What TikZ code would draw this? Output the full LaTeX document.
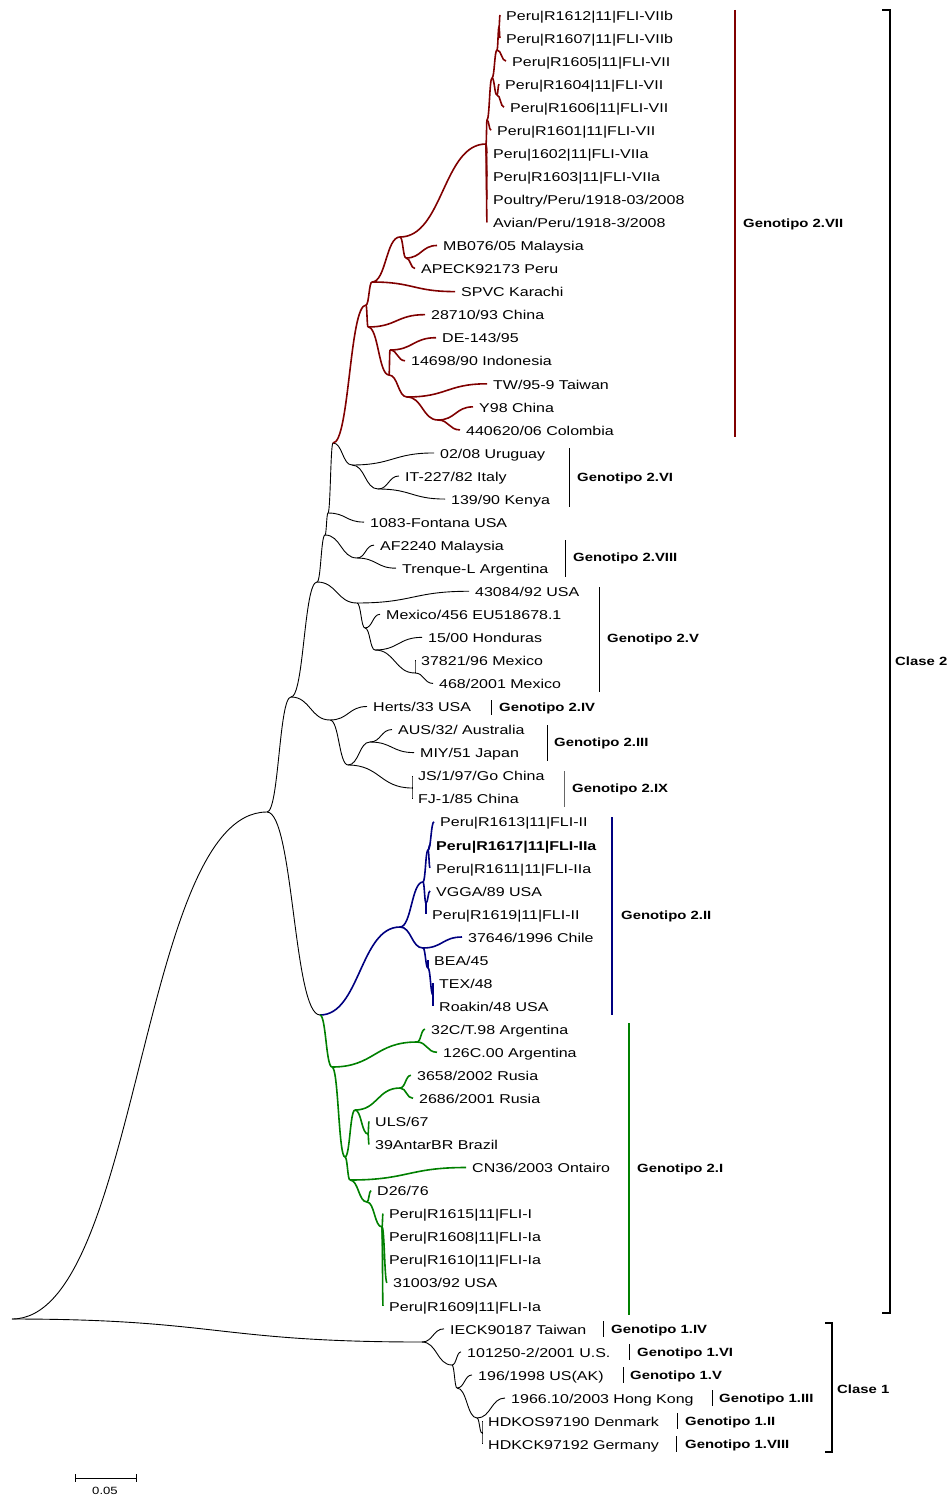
\documentclass[tikz,border=0pt]{standalone}
\usepackage{fontspec}
\newfontfamily\treefont[FakeStretch=1.25]{Liberation Sans}
\usetikzlibrary{calc}

\definecolor{cvii}{RGB}{128,0,0}
\definecolor{cii}{RGB}{0,0,128}
\definecolor{ci}{RGB}{0,128,0}

\tikzset{
    br/.style={to path={let \p1=(\tikztostart), \p2=(\tikztotarget), \n1={0.5*(\x1+\x2)} in
        .. controls (\n1,\y1) and (\n1,\y2) .. (\tikztotarget)}},
    taxon/.style={anchor=base west, inner sep=0pt, xshift=6pt, yshift=-5.2pt,
        font=\treefont\fontsize{12.8}{14}\selectfont},
    geno/.style={anchor=base west, inner sep=0pt, yshift=-4.8pt,
        font=\treefont\bfseries\fontsize{11.9}{13}\selectfont},
    thin branch/.style={line width=0.9pt},
    thick branch/.style={line width=1.6pt}
}

% leaf: name, tip x, row, text
\newcommand\leaf[4]{\coordinate (#1) at (#2,{15+23.05*(#3-1)}); \node[taxon] (#1-txt) at (#1) {#4};}

\begin{document}
\begin{tikzpicture}[x=1pt, y=-1pt, br]
    \useasboundingbox (0,0) rectangle (950,1495);

    % inner nodes
    \coordinate (root) at (12,1319);
    \coordinate (n6) at (267,812);
    \coordinate (n5) at (291,697);
    \coordinate (n4) at (317,582);
    \coordinate (n3) at (325,535);
    \coordinate (n2) at (328,513);
    \coordinate (n1) at (333,443);
    \coordinate (n7) at (320,1015);
    \coordinate (k0) at (422,1342);
    \coordinate (k1) at (452,1365);
    \coordinate (k2) at (457,1388);
    \coordinate (k3) at (477,1418);
    \coordinate (k4) at (482,1433);

    \coordinate (r0) at (366,305);
    \coordinate (ra) at (372,282);
    \coordinate (rb) at (368,327);
    \coordinate (rc) at (400,237);
    \coordinate (rd) at (389,375);
    \coordinate (re) at (406,258);
    \coordinate (rf) at (390,350);
    \coordinate (rg) at (407,397);
    \coordinate (rh) at (438,420);
    \coordinate (p0) at (486,144);
    \coordinate (p1) at (487,120);
    \coordinate (p2) at (492,78);
    \coordinate (p3) at (497,50);
    \coordinate (p4) at (499,27);
    \coordinate (p5) at (497,95);

    \coordinate (v1) at (352,465);
    \coordinate (v2) at (378,489);
    \coordinate (w1) at (357,558);
    \coordinate (x1) at (357,603);
    \coordinate (x2) at (365,628);
    \coordinate (x3) at (375,650);
    \coordinate (x4) at (415,673);
    \coordinate (y1) at (330,720);
    \coordinate (y2) at (348,765);
    \coordinate (y3) at (370,742);
    \coordinate (y4) at (412,788);

    \coordinate (b0) at (400,927);
    \coordinate (b1) at (423,882);
    \coordinate (b2) at (423,948);
    \coordinate (b3) at (428,850);
    \coordinate (b4) at (426,903);
    \coordinate (b5) at (428,968);
    \coordinate (b6) at (433,995);

    \coordinate (g1) at (332,1067);
    \coordinate (g2) at (345,1157);
    \coordinate (g3) at (355,1110);
    \coordinate (g4) at (350,1180);
    \coordinate (g5) at (367,1202);
    \coordinate (g6) at (382,1227);
    \coordinate (ga) at (417,1042);
    \coordinate (gb) at (400,1088);
    \coordinate (gc) at (368,1134);

    % leaves
    \leaf{t1}{500}{1}{Peru|R1612|11|FLI-VIIb}
    \leaf{t2}{500}{2}{Peru|R1607|11|FLI-VIIb}
    \leaf{t3}{506}{3}{Peru|R1605|11|FLI-VII}
    \leaf{t4}{499}{4}{Peru|R1604|11|FLI-VII}
    \leaf{t5}{504}{5}{Peru|R1606|11|FLI-VII}
    \leaf{t6}{491}{6}{Peru|R1601|11|FLI-VII}
    \leaf{t7}{487}{7}{Peru|1602|11|FLI-VIIa}
    \leaf{t8}{487}{8}{Peru|R1603|11|FLI-VIIa}
    \leaf{t9}{487}{9}{Poultry/Peru/1918-03/2008}
    \leaf{t10}{487}{10}{Avian/Peru/1918-3/2008}
    \leaf{t11}{437}{11}{MB076/05 Malaysia}
    \leaf{t12}{415}{12}{APECK92173 Peru}
    \leaf{t13}{455}{13}{SPVC Karachi}
    \leaf{t14}{425}{14}{28710/93 China}
    \leaf{t15}{436}{15}{DE-143/95}
    \leaf{t16}{405}{16}{14698/90 Indonesia}
    \leaf{t17}{487}{17}{TW/95-9 Taiwan}
    \leaf{t18}{473}{18}{Y98 China}
    \leaf{t19}{460}{19}{440620/06 Colombia}
    \leaf{t20}{434}{20}{02/08 Uruguay}
    \leaf{t21}{399}{21}{IT-227/82 Italy}
    \leaf{t22}{445}{22}{139/90 Kenya}
    \leaf{t23}{364}{23}{1083-Fontana USA}
    \leaf{t24}{374}{24}{AF2240 Malaysia}
    \leaf{t25}{396}{25}{Trenque-L Argentina}
    \leaf{t26}{469}{26}{43084/92 USA}
    \leaf{t27}{380}{27}{Mexico/456 EU518678.1}
    \leaf{t28}{422}{28}{15/00 Honduras}
    \leaf{t29}{415}{29}{37821/96 Mexico}
    \leaf{t30}{433}{30}{468/2001 Mexico}
    \leaf{t31}{367}{31}{Herts/33 USA}
    \leaf{t32}{392}{32}{AUS/32/ Australia}
    \leaf{t33}{414}{33}{MIY/51 Japan}
    \leaf{t34}{412}{34}{JS/1/97/Go China}
    \leaf{t35}{412}{35}{FJ-1/85 China}
    \leaf{t36}{434}{36}{Peru|R1613|11|FLI-II}
    \leaf{t37}{430}{37}{\bfseries Peru|R1617|11|FLI-IIa}
    \leaf{t38}{430}{38}{Peru|R1611|11|FLI-IIa}
    \leaf{t39}{430}{39}{VGGA/89 USA}
    \leaf{t40}{426}{40}{Peru|R1619|11|FLI-II}
    \leaf{t41}{462}{41}{37646/1996 Chile}
    \leaf{t42}{428}{42}{BEA/45}
    \leaf{t43}{433}{43}{TEX/48}
    \leaf{t44}{433}{44}{Roakin/48 USA}
    \leaf{t45}{425}{45}{32C/T.98 Argentina}
    \leaf{t46}{437}{46}{126C.00 Argentina}
    \leaf{t47}{411}{47}{3658/2002 Rusia}
    \leaf{t48}{413}{48}{2686/2001 Rusia}
    \leaf{t49}{369}{49}{ULS/67}
    \leaf{t50}{369}{50}{39AntarBR Brazil}
    \leaf{t51}{466}{51}{CN36/2003 Ontairo}
    \leaf{t52}{371}{52}{D26/76}
    \leaf{t53}{383}{53}{Peru|R1615|11|FLI-I}
    \leaf{t54}{383}{54}{Peru|R1608|11|FLI-Ia}
    \leaf{t55}{383}{55}{Peru|R1610|11|FLI-Ia}
    \leaf{t56}{387}{56}{31003/92 USA}
    \leaf{t57}{383}{57}{Peru|R1609|11|FLI-Ia}
    \leaf{t58}{444}{58}{IECK90187 Taiwan}
    \leaf{t59}{461}{59}{101250-2/2001 U.S.}
    \leaf{t60}{472}{60}{196/1998 US(AK)}
    \leaf{t61}{505}{61}{1966.10/2003 Hong Kong}
    \leaf{t62}{482}{62}{HDKOS97190 Denmark}
    \leaf{t63}{482}{63}{HDKCK97192 Germany}

    % branches
    \foreach \a/\b in {root/n6, root/k0, n6/n5, n6/n7, n5/n4, n5/y1, n4/n3, n4/x1,
        n3/n2, n3/w1, n2/n1, n2/t23, n1/v1, v1/t20, v1/v2, v2/t21, v2/t22,
        w1/t24, w1/t25, x1/t26, x1/x2, x2/t27, x2/x3, x3/t28, x3/x4, x4/t29, x4/t30,
        y1/t31, y1/y2, y2/y3, y2/y4, y3/t32, y3/t33, y4/t34, y4/t35,
        k0/t58, k0/k1, k1/t59, k1/k2, k2/t60, k2/k3, k3/t61, k3/k4, k4/t62, k4/t63}
        \draw[thin branch] (\a) to (\b);

    \foreach \a/\b in {n1/r0, r0/ra, r0/rb, ra/rc, ra/t13, rc/p0, rc/re, re/t11, re/t12,
        rb/t14, rb/rd, rd/rf, rd/rg, rf/t15, rf/t16, rg/t17, rg/rh, rh/t18, rh/t19,
        p0/p1, p0/t7, p0/t8, p0/t9, p0/t10, p1/t6, p1/p2, p2/p3, p2/p5,
        p3/p4, p3/t3, p4/t1, p4/t2, p5/t4, p5/t5}
        \draw[thick branch, cvii] (\a) to (\b);

    \foreach \a/\b in {n7/b0, b0/b1, b0/b2, b1/b3, b1/b4, b3/t36, b3/t37, b3/t38,
        b4/t39, b4/t40, b2/t41, b2/b5, b5/t42, b5/b6, b6/t43, b6/t44}
        \draw[thick branch, cii] (\a) to (\b);

    \foreach \a/\b in {n7/g1, g1/ga, g1/g2, ga/t45, ga/t46, g2/g3, g2/g4, g3/gb, g3/gc,
        gb/t47, gb/t48, gc/t49, gc/t50, g4/t51, g4/g5, g5/t52, g5/g6,
        g6/t53, g6/t54, g6/t55, g6/t56, g6/t57}
        \draw[thick branch, ci] (\a) to (\b);

    % genotypes
    \draw[thick branch, cvii] (735,10) -- (735,437);
    \node[geno] (gvii) at (743,223) {Genotipo 2.VII};
    \draw[line width=1pt] (569,448) -- (569,507);
    \node[geno] (gvi) at (577,477) {Genotipo 2.VI};
    \draw[line width=1pt] (565,540) -- (565,577);
    \node[geno] (gviii) at (573,557) {Genotipo 2.VIII};
    \draw[line width=1pt] (599,587) -- (599,692);
    \node[geno] (gv) at (607,638) {Genotipo 2.V};
    \draw[line width=1pt] (491,700) -- (491,715);
    \node[geno] (giv) at (499,707) {Genotipo 2.IV};
    \draw[line width=1pt] (547,725) -- (547,761);
    \node[geno] (giii) at (554,742) {Genotipo 2.III};
    \draw[line width=1pt, black!60] (564,771) -- (564,807);
    \node[geno] (gix) at (572,788) {Genotipo 2.IX};
    \draw[thick branch, cii] (612,817) -- (612,1015);
    \node[geno] (gii) at (621,915) {Genotipo 2.II};
    \draw[thick branch, ci] (629,1023) -- (629,1315);
    \node[geno] (gi) at (637,1168) {Genotipo 2.I};

    \draw[line width=0.8pt] (603,1321) -- (603,1337);
    \node[geno] (hiv) at (611,1329) {Genotipo 1.IV};
    \draw[line width=0.8pt] (629,1344) -- (629,1360);
    \node[geno] (hvi) at (637,1352) {Genotipo 1.VI};
    \draw[line width=0.8pt] (623,1367) -- (623,1383);
    \node[geno] (hv) at (630,1375) {Genotipo 1.V};
    \draw[line width=0.8pt] (712,1390) -- (712,1406);
    \node[geno] (hiii) at (719,1398) {Genotipo 1.III};
    \draw[line width=0.8pt] (677,1413) -- (677,1429);
    \node[geno] (hii) at (685,1421) {Genotipo 1.II};
    \draw[line width=0.8pt] (676,1436) -- (676,1452);
    \node[geno] (hviii) at (685,1444) {Genotipo 1.VIII};

    % classes
    \draw[line width=1.6pt] (882,10) -- (890,10) -- (890,1313) -- (882,1313);
    \node[geno] (c2) at (895,661) {Clase 2};
    \draw[line width=1.6pt] (825,1323) -- (832,1323) -- (832,1452) -- (825,1452);
    \node[geno] (c1) at (837,1389) {Clase 1};

    % scale
    \draw[line width=0.8pt] (75,1474) -- (75,1482) (75,1478) -- (136,1478) (136,1474) -- (136,1482);
    \node[font=\treefont\fontsize{10.5}{12}\selectfont, inner sep=0pt] (sc) at (105,1491) {0.05};
\end{tikzpicture}
\end{document}
